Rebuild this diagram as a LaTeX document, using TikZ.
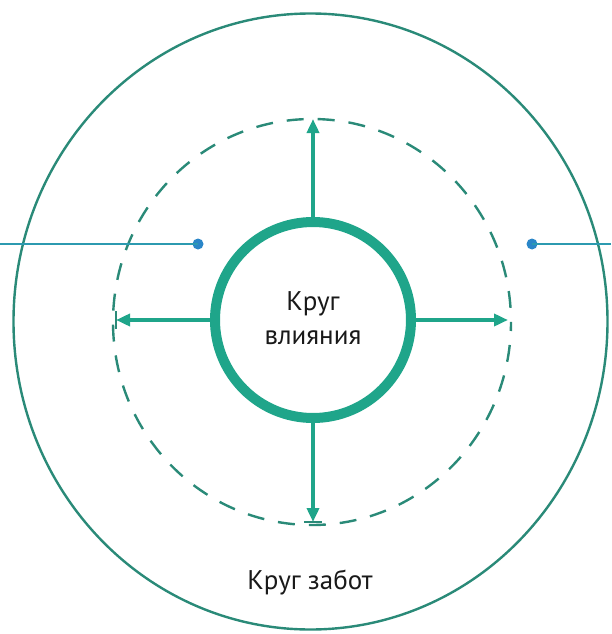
\documentclass[tikz,border=0pt]{standalone}
\usepackage{fontspec}
\setmainfont{PT Sans}
\usetikzlibrary{arrows.meta}
\definecolor{tealA}{HTML}{1FA58A}
\definecolor{tealD}{HTML}{2A8A78}
\definecolor{blueL}{HTML}{2C9AB0}
\definecolor{blueD}{HTML}{2A86C8}
\tikzset{
  arr/.style={tealA, line width=3.5pt, -{Triangle[length=14pt,width=12pt]}},
  tick/.style={tealD, line width=2.2pt},
  lbl/.style={font=\fontsize{27}{34}\selectfont, text=black!90, align=center},
  bluel/.style={blueL, line width=2pt},
  dot/.style={circle, fill=blueD, inner sep=0pt, minimum size=11pt},
}
\begin{document}
\begin{tikzpicture}[x=1pt,y=-1pt]
\useasboundingbox (0,0) rectangle (611,634);
\coordinate (c) at (310.5,321.5);
\coordinate (cd) at (312,322);
\draw[tealD, line width=2.4pt] (c) ellipse[x radius=297, y radius=308];
\draw[tealD, line width=2.4pt, dash pattern=on 17pt off 14pt, dash phase=8pt] (cd) ellipse[x radius=199, y radius=203];
\node[circle, draw=tealA, line width=10pt, minimum size=196pt, inner sep=0pt] (inner) at (313,320) {};
\node[lbl] (t1) at (313,318) {Круг\\влияния};
\node[lbl] (t2) at (310,582) {Круг забот};
% arrow ends
\coordinate (eu) at (313,119);
\coordinate (el) at (116,320);
\coordinate (er) at (508,320);
\coordinate (ed) at (313,522);
\draw[arr] (inner.north) -- (eu);
\draw[arr] (inner.west) -- (el);
\draw[arr] (inner.east) -- (er);
\draw[arr] (inner.south) -- (ed);
\draw[tick] ([yshift=-9pt]el) -- ([yshift=9pt]el);
\draw[tick] ([xshift=-9pt]ed) -- ([xshift=9pt]ed);
% blue pointers
\node[dot] (dl) at (198,244) {};
\node[dot] (dr) at (532,244) {};
\coordinate (fl) at (0,244);
\coordinate (fr) at (611,244);
\draw[bluel] (fl) -- (dl.center);
\draw[bluel] (dr.center) -- (fr);
\end{tikzpicture}
\end{document}
